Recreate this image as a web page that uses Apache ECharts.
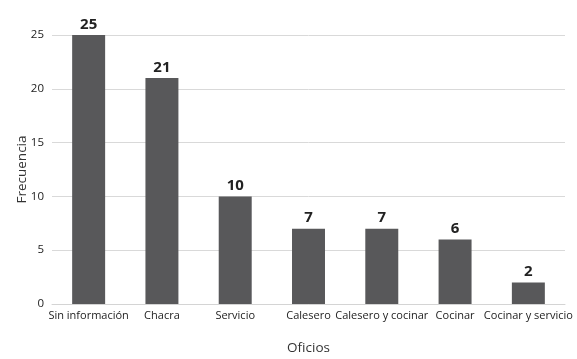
<!DOCTYPE html>
<html><head><meta charset="utf-8">
<script src="https://cdn.jsdelivr.net/npm/echarts@6/dist/echarts.min.js"></script>
<style>html,body{margin:0;padding:0;background:#fff}#c{width:577px;height:359px}</style>
</head><body><div id="c"></div>
<script>
var categories = ["Sin información","Chacra","Servicio","Calesero","Calesero y cocinar","Cocinar","Cocinar y servicio"];
var values = [25,21,10,7,7,6,2];
var yTicks = [0,5,10,15,20,25];
var F = "'Open Sans', 'Noto Sans', sans-serif";
var chart = echarts.init(document.getElementById('c'));
chart.setOption({
  animation:false,
  grid:{left:52,right:12,top:35,bottom:55,containLabel:false,outerBoundsMode:'none'},
  xAxis:{type:'category',data:categories,
    name:'Oficios',nameLocation:'middle',nameGap:37,nameMoveOverlap:false,
    nameTextStyle:{fontFamily:F,fontSize:13.5,color:'#333'},
    axisLine:{lineStyle:{color:'#d4d4d4'}},
    axisTick:{length:10,lineStyle:{color:'#d4d4d4'}},
    axisLabel:{fontFamily:F,fontSize:11,color:'#222',margin:6,interval:0}},
  yAxis:{type:'value',min:yTicks[0],max:yTicks[yTicks.length-1],interval:5,
    name:'Frecuencia',nameLocation:'middle',nameGap:23,nameRotate:90,nameMoveOverlap:false,
    nameTextStyle:{fontFamily:F,fontSize:13.5,color:'#333'},
    axisLine:{show:false},axisTick:{show:false},
    splitLine:{lineStyle:{color:'#d9d9d9'}},
    axisLabel:{fontFamily:F,fontSize:11.5,color:'#222',margin:8}},
  series:[{type:'bar',data:values,barWidth:'45%',
    itemStyle:{color:'#58585a'},
    label:{show:true,position:'top',distance:3,fontFamily:F,fontSize:15,fontWeight:'bold',color:'#222'}}]
});
</script></body></html>
